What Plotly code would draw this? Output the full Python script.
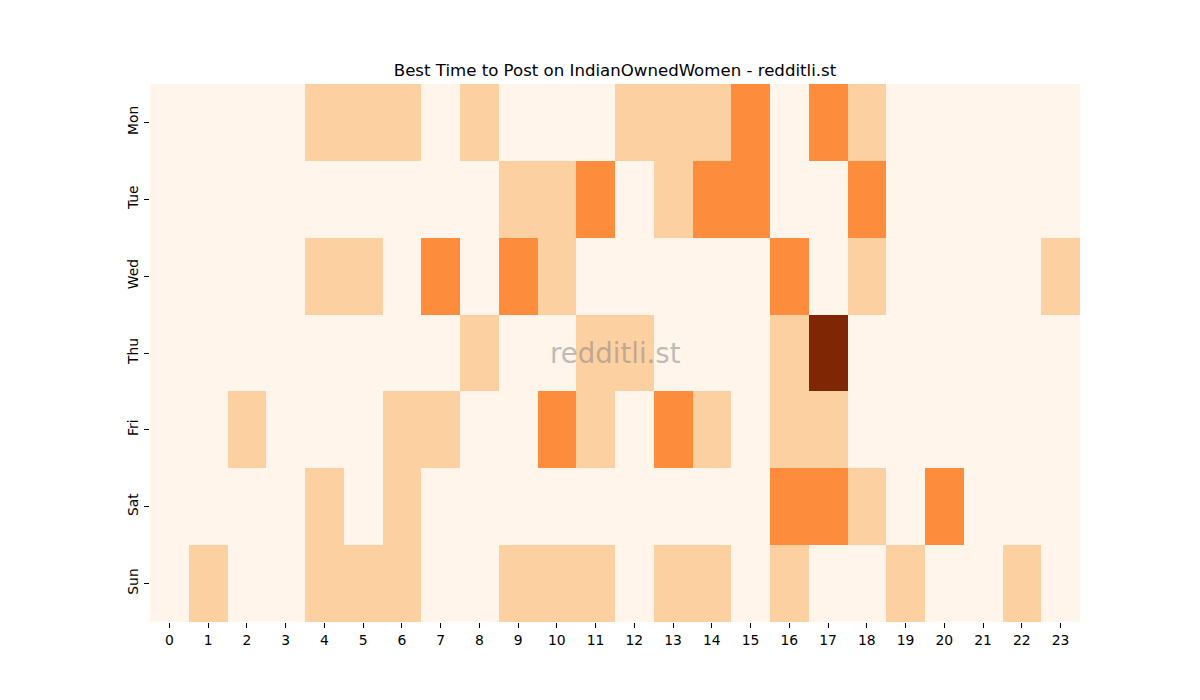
import plotly.graph_objects as go

days = ["Mon", "Tue", "Wed", "Thu", "Fri", "Sat", "Sun"]
hours = list(range(24))

mon = [0,0,0,0,1,1,1,0,1,0,0,0,1,1,1,2,0,2,1,0,0,0,0,0]
tue = [0,0,0,0,0,0,0,0,0,1,1,2,0,1,2,2,0,0,2,0,0,0,0,0]
wed = [0,0,0,0,1,1,0,2,0,2,1,0,0,0,0,0,2,0,1,0,0,0,0,1]
thu = [0,0,0,0,0,0,0,0,1,0,0,1,1,0,0,0,1,4,0,0,0,0,0,0]
fri = [0,0,1,0,0,0,1,1,0,0,2,1,0,2,1,0,1,1,0,0,0,0,0,0]
sat = [0,0,0,0,1,0,1,0,0,0,0,0,0,0,0,0,2,2,1,0,2,0,0,0]
sun = [0,1,0,0,1,1,1,0,0,1,1,1,0,1,1,0,1,0,0,1,0,0,1,0]

z = [mon, tue, wed, thu, fri, sat, sun]

fig = go.Figure(go.Heatmap(
    z=z, x=hours, y=days,
    colorscale="Oranges", zmin=0, zmax=4,
    showscale=False, xgap=0, ygap=0,
))

font = "DejaVu Sans"
fig.update_layout(
    width=1200, height=700,
    margin=dict(l=150, r=120, t=84, b=78),
    paper_bgcolor="white", plot_bgcolor="white",
    font=dict(family=font, size=13.9, color="black"),
    title=dict(text="Best Time to Post on IndianOwnedWomen - redditli.st",
               x=615/1200, xanchor="center", y=1-70/700, yanchor="middle",
               font=dict(family=font, size=16.6, color="black")),
    xaxis=dict(tickmode="array", tickvals=hours, ticktext=[str(h) for h in hours],
               ticks="outside", ticklen=5, tickwidth=1, tickcolor="black",
               showgrid=False, zeroline=False, showline=False,
               range=[-0.5, 23.5]),
    yaxis=dict(autorange="reversed", ticks="outside", ticklen=5, tickwidth=1,
               tickcolor="black", tickangle=-90, showgrid=False, zeroline=False,
               showline=False),
    annotations=[dict(text="redditli.st", x=0.5, y=0.5, xref="paper", yref="paper",
                      showarrow=False, xanchor="center", yanchor="middle",
                      font=dict(family=font, size=27.6, color="rgba(128,128,128,0.5)"))],
)

fig.write_html("out.html")
